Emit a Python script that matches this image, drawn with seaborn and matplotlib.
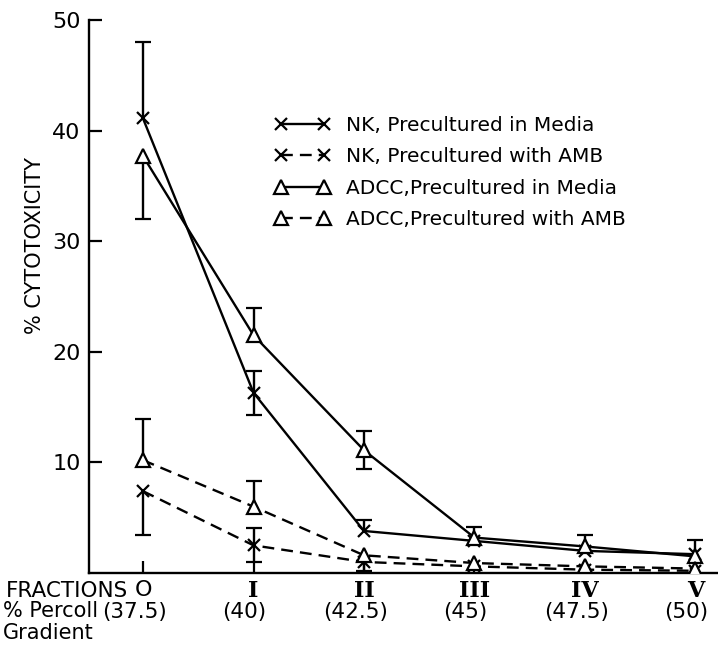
import numpy as np
import pandas as pd
import matplotlib
matplotlib.use("Agg")
import matplotlib.pyplot as plt
import matplotlib.transforms as mtrans
from matplotlib.lines import Line2D
import seaborn as sns

# ---------------- data ----------------
fractions = ["O", "I", "II", "III", "IV", "V"]
percoll = ["(37.5)", "(40)", "(42.5)", "(45)", "(47.5)", "(50)"]

nk_media = [41.1, 16.3, 3.8, 2.9, 2.0, 1.7]
nk_media_up = [6.9, 2.0, 1.0, 0, 0, 0]
nk_media_lo = [0, 2.0, 0, 0, 0, 0]

nk_amb = [7.4, 2.5, 1.0, 0.6, 0.3, 0.2]
nk_amb_up = [0, 1.6, 0, 0, 0, 0]
nk_amb_lo = [4.0, 1.5, 0.8, 0, 0, 0]

adcc_media = [37.7, 21.5, 11.1, 3.2, 2.4, 1.5]
adcc_media_up = [0, 2.5, 1.7, 1.0, 1.0, 1.5]
adcc_media_lo = [5.7, 0, 1.7, 0, 0, 0]

adcc_amb = [10.2, 6.0, 1.6, 0.9, 0.6, 0.4]
adcc_amb_up = [3.7, 2.3, 0, 0, 0, 0]
adcc_amb_lo = [0, 0, 0, 0, 0, 0]

labels = ["NK, Precultured in Media", "NK, Precultured with AMB",
          "ADCC,Precultured in Media", "ADCC,Precultured with AMB"]
yticks = [10, 20, 30, 40, 50]

# ---------------- style ----------------
sns.set_style("ticks")
plt.rcParams["font.family"] = ["DejaVu Sans"]

W, H = 718, 647
fig = plt.figure(figsize=(W / 100, H / 100), dpi=100)
fig.patch.set_facecolor("white")
ax_l, ax_r, ax_t, ax_b = 89, 718, 20, 573
ax = fig.add_axes([ax_l / W, (H - ax_b) / H, (ax_r - ax_l) / W, (ax_b - ax_t) / H])
ax.set_facecolor("white")

x = np.arange(len(fractions))
LW = 1.7
DASH = (0, (5, 3))

series = [
    (nk_media, nk_media_lo, nk_media_up, "x", "-"),
    (nk_amb, nk_amb_lo, nk_amb_up, "x", DASH),
    (adcc_media, adcc_media_lo, adcc_media_up, "^", "-"),
    (adcc_amb, adcc_amb_lo, adcc_amb_up, "^", DASH),
]

handles = []
for (vals, lo, up, mk, ls), lab in zip(series, labels):
    df = pd.DataFrame({"frac": x, "val": vals})
    ms = 10 if mk == "^" else 8
    sns.lineplot(data=df, x="frac", y="val", ax=ax, color="black",
                 linestyle=ls, linewidth=LW, marker=mk, markersize=ms,
                 markerfacecolor="white", markeredgecolor="black",
                 markeredgewidth=1.6, legend=False, zorder=3)
    lo = np.array(lo); up = np.array(up); v = np.array(vals)
    for i in range(len(x)):
        if lo[i] > 0 or up[i] > 0:
            ax.vlines(x[i], v[i] - lo[i], v[i] + up[i], color="black",
                      linewidth=LW, zorder=2)
        if up[i] > 0:
            ax.plot([x[i]], [v[i] + up[i]], marker="_", ms=11, mew=1.6,
                    color="black", zorder=2)
        if lo[i] > 0:
            ax.plot([x[i]], [v[i] - lo[i]], marker="_", ms=11, mew=1.6,
                    color="black", zorder=2)
    handles.append(Line2D([], [], color="black", linestyle=ls, linewidth=LW,
                          marker=mk, markersize=ms, markerfacecolor="white",
                          markeredgecolor="black", markeredgewidth=1.6))

# ---------------- axes ----------------
x_left = (ax_l - 143) / 110.5
x_right = (ax_r - 143) / 110.5
ax.set_xlim(x_left, x_right)
ax.set_ylim(0, 50)
sns.despine(ax=ax, top=True, right=True)
for s in ["left", "bottom"]:
    ax.spines[s].set_linewidth(1.7)
    ax.spines[s].set_color("black")

ax.set_yticks(yticks)
ax.set_yticklabels([str(t) for t in yticks], fontsize=16)
ax.set_xticks(x)
ax.set_xticklabels(fractions, fontsize=16)
for i, t in enumerate(ax.get_xticklabels()):
    if i > 0:
        t.set_family("DejaVu Serif")
        t.set_fontweight("bold")
ax.tick_params(axis="both", direction="in", length=9, width=1.6,
               color="black", labelcolor="black")
ax.tick_params(axis="y", pad=6)
ax.tick_params(axis="x", pad=5)
ax.set_xlabel("")
ax.set_ylabel("")

# y-label
fig.text(35 / W, 1 - 245 / H, "% CYTOTOXICITY", rotation=90, fontsize=15,
         ha="center", va="center", color="black")

# bottom rows
fig.text(128 / W, 1 - 591 / H, "FRACTIONS", fontsize=15.5, ha="right",
         va="center", color="black")
fig.text(3 / W, 1 - 611 / H, "% Percoll", fontsize=15, ha="left",
         va="center", color="black")
fig.text(3 / W, 1 - 633 / H, "Gradient", fontsize=15, ha="left",
         va="center", color="black")
blend = mtrans.blended_transform_factory(ax.transData, fig.transFigure)
for xi, p in zip(x, percoll):
    ax.text(xi - 0.08, 1 - 612 / H, p, transform=blend, fontsize=15.5,
            ha="center", va="center", clip_on=False, color="black")

# legend
leg = ax.legend(handles, labels, loc="upper left",
                bbox_to_anchor=((275 - ax_l) / (ax_r - ax_l),
                                (ax_b - 116) / (ax_b - ax_t)),
                frameon=False, numpoints=2, handlelength=2.75,
                handletextpad=0.8, labelspacing=0.62, borderpad=0,
                borderaxespad=0, fontsize=14.5)
for t in leg.get_texts():
    t.set_color("black")

fig.savefig("out.png", dpi=100, facecolor="white")
